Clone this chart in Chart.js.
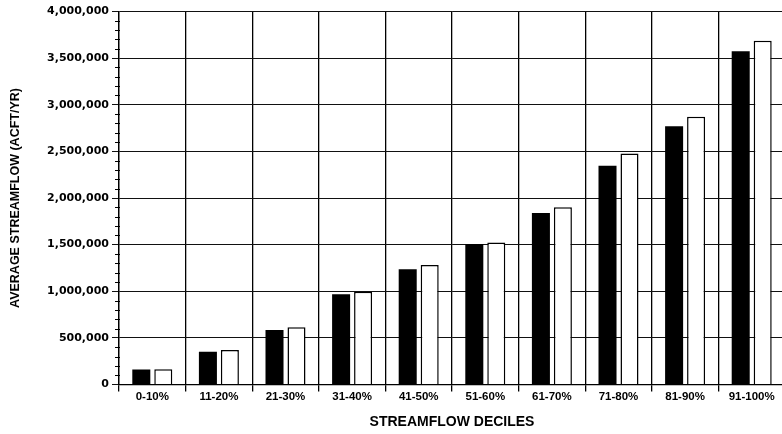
<!DOCTYPE html>
<html>
<head>
<meta charset="utf-8">
<script src="https://cdn.jsdelivr.net/npm/chart.js@4"></script>
<style>
  html, body { margin: 0; padding: 0; background: #fff; overflow: hidden; }
  #wrap { width: 790px; height: 434px; }
</style>
</head>
<body>
<div id="wrap"><canvas id="myChart" width="790" height="434"></canvas></div>
<script>
var deciles = ["0-10%", "11-20%", "21-30%", "31-40%", "41-50%", "51-60%", "61-70%", "71-80%", "81-90%", "91-100%"];
var flowDark = [160000, 352000, 584000, 967000, 1235000, 1506000, 1838000, 2345000, 2770000, 3574000];
var flowLight = [163000, 370000, 613000, 995000, 1281000, 1524000, 1900000, 2478000, 2870000, 3685000];
var yMax = 4000000;
var yStep = 500000;
var yMinorStep = 100000;

// little ticks on the y axis between the labelled ones
var minorTicks = {
    id: 'minorTicks',
    afterDraw: function (chart) {
        var y = chart.scales.y;
        var ctx = chart.ctx;
        ctx.save();
        ctx.strokeStyle = '#000';
        ctx.lineWidth = 1;
        for (var v = yMinorStep; v < yMax; v += yMinorStep) {
            if (v % yStep === 0) continue;
            var py = Math.round(y.getPixelForValue(v)) + 0.5;
            ctx.beginPath();
            ctx.moveTo(y.right - 4, py);
            ctx.lineTo(y.right + 1, py);
            ctx.stroke();
        }
        ctx.restore();
    }
};

var data = {
    labels: deciles,
    datasets: [{
        label: "A",
        backgroundColor: '#000',
        borderColor: '#000',
        borderWidth: 0,
        data: flowDark,
    }, {
        label: "B",
        backgroundColor: '#fff',
        borderColor: '#000',
        borderWidth: 1.5,
        data: flowLight,
    }]
};

var ctx = document.getElementById("myChart").getContext("2d");

var myBarChart = new Chart(ctx, {
    type: "bar",
    data: data,
    plugins: [minorTicks],
    options: {
        responsive: false,
        animation: false,
        categoryPercentage: 0.66,
        barPercentage: 0.82,
        layout: { padding: { top: 11.5, right: 5, left: 0, bottom: 0 } },
        plugins: {
            legend: { display: false },
            tooltip: { enabled: false }
        },
        scales: {
            x: {
                afterFit: function (s) { s.height = 49.5; },
                grid: { color: '#000', lineWidth: 1.3, tickLength: 7, offset: true },
                border: { color: '#000', width: 1.3 },
                ticks: {
                    color: '#000',
                    padding: -2,
                    maxRotation: 0,
                    font: { family: 'Liberation Sans', weight: 'bold', size: 11.5 }
                },
                title: {
                    display: true,
                    text: 'STREAMFLOW DECILES',
                    color: '#000',
                    padding: { top: 0, bottom: 3 },
                    font: { family: 'Liberation Sans', weight: 'bold', size: 14 }
                }
            },
            y: {
                min: 0,
                max: yMax,
                afterFit: function (s) { s.width = 119; },
                grid: { color: '#111', lineWidth: 1, tickLength: 7 },
                border: { color: '#000', width: 1.3 },
                ticks: {
                    stepSize: yStep,
                    color: '#000',
                    padding: 3,
                    font: { family: 'DejaVu Sans', weight: 'bold', size: 11 },
                    callback: function (v) { return v.toLocaleString('en-US'); }
                },
                title: {
                    display: true,
                    text: 'AVERAGE STREAMFLOW (ACFT/YR)',
                    color: '#000',
                    padding: { top: 8, bottom: 0 },
                    font: { family: 'Liberation Sans', weight: 'bold', size: 12.5 }
                }
            }
        }
    }
});
</script>
</body>
</html>
